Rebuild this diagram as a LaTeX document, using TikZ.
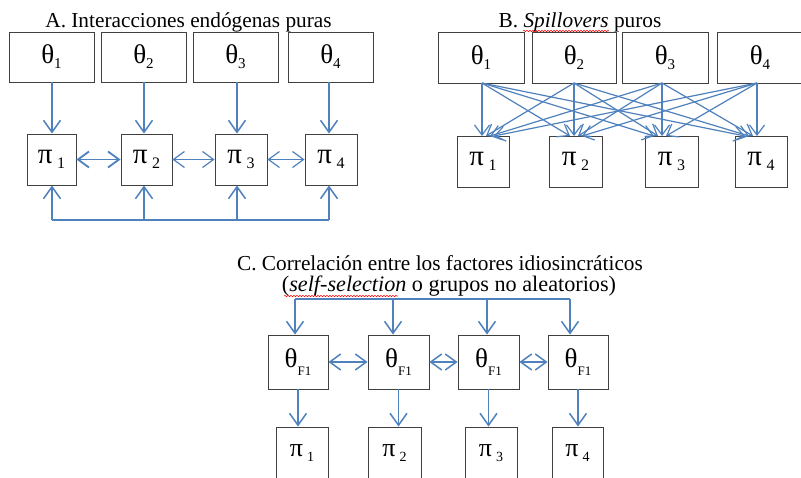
\documentclass[tikz,border=0pt]{standalone}
\usepackage{fontspec}
\setmainfont{Liberation Serif}
\usetikzlibrary{arrows.meta,decorations.pathmorphing}
\definecolor{ab}{RGB}{79,129,189}
\newcommand{\thA}[1]{\fontsize{27}{28}\selectfont θ\raisebox{-5pt}{\fontsize{15}{15}\selectfont #1}}
\newcommand{\piA}[1]{\fontsize{29}{29}\selectfont π\,\raisebox{-5pt}{\fontsize{16}{16}\selectfont #1}}
\newcommand{\thF}{\fontsize{27}{28}\selectfont θ\raisebox{-8pt}{\fontsize{13}{13}\selectfont F1}}
\newcommand{\piC}[1]{\fontsize{26}{26}\selectfont π\,\raisebox{-5pt}{\fontsize{14}{14}\selectfont #1}}
\tikzset{
 box/.style={draw=black!75, line width=0.9pt, rectangle, inner sep=0pt},
 arr/.style={ab, line width=1.5pt, -{Straight Barb[length=12pt,width=17pt]}},
 darr/.style={ab, line width=1.5pt, {Straight Barb[length=11pt,width=16pt]}-{Straight Barb[length=11pt,width=16pt]}},
 arrB/.style={ab, line width=1.2pt, -{Straight Barb[length=10pt,width=15pt]}},
 ln/.style={ab, line width=1.5pt},
 ttl/.style={font=\fontsize{21.3}{24}\selectfont, anchor=base, inner sep=0pt},
 spell/.style={red, line width=0.5pt, decorate, decoration={snake, amplitude=0.7pt, segment length=3pt}}
}
\begin{document}
\begin{tikzpicture}[x=1pt,y=-1pt]
\useasboundingbox (0,0) rectangle (801,477);
\clip (0,0) rectangle (801,477);
\fill[white] (0,0) rectangle (801,477);

% ---------- Panel A ----------
\node[ttl] (titA) at (188.5,27) {A. Interacciones endógenas puras};
\node[box, minimum width=85pt, minimum height=50pt] (tA1) at (51.5,57) {\thA{1}};
\node[box, minimum width=85pt, minimum height=50pt] (tA2) at (143.5,57) {\thA{2}};
\node[box, minimum width=85pt, minimum height=50pt] (tA3) at (235.5,57) {\thA{3}};
\node[box, minimum width=85pt, minimum height=50pt] (tA4) at (330.5,57) {\thA{4}};
\node[box, minimum width=49pt, minimum height=51pt] (pA1) at (51.5,159.5) {\piA{1}};
\node[box, minimum width=51pt, minimum height=51pt] (pA2) at (146.5,159.5) {\piA{2}};
\node[box, minimum width=52pt, minimum height=51pt] (pA3) at (241,159.5) {\piA{3}};
\node[box, minimum width=52pt, minimum height=51pt] (pA4) at (331,159.5) {\piA{4}};
\foreach \i/\xx in {1/52,2/144,3/237,4/329}{
  \coordinate (uA\i) at (\xx,82);
  \coordinate (bA\i) at (\xx,220);
  \draw[arr] (uA\i) -- (uA\i |- pA\i.north);
  \draw[arr] (bA\i) -- (bA\i |- pA\i.south);
}
\draw[ln] (bA1) -- (bA4);
\draw[darr, line width=1.8pt] (pA1.east) -- (pA2.west);
\draw[darr, line width=1.2pt] (pA2.east) -- (pA3.west);
\draw[darr, line width=1.2pt] (pA3.east) -- (pA4.west);

% ---------- Panel B ----------
\node[ttl] (titB) at (580,27) {B. \textit{Spillovers} puros};
\draw[spell] (523,31) -- (609,31);
\node[box, minimum width=86pt, minimum height=51pt] (tB1) at (481,57.5) {\thA{1}};
\node[box, minimum width=84pt, minimum height=51pt] (tB2) at (574,57.5) {\thA{2}};
\node[box, minimum width=86pt, minimum height=51pt] (tB3) at (665,57.5) {\thA{3}};
\node[box, minimum width=86pt, minimum height=51pt] (tB4) at (760,57.5) {\thA{4}};
\node[box, minimum width=52pt, minimum height=51pt] (pB1) at (483,161.5) {\piA{1}};
\node[box, minimum width=53pt, minimum height=51pt] (pB2) at (575.5,161.5) {\piA{2}};
\node[box, minimum width=53pt, minimum height=51pt] (pB3) at (671.5,161.5) {\piA{3}};
\node[box, minimum width=52pt, minimum height=51pt] (pB4) at (761,161.5) {\piA{4}};
\foreach \i/\xx in {1/482,2/574,3/662,4/757}{
  \coordinate (sB\i) at (\xx,83);
  \coordinate (eB\i) at (\xx,136);
}
\foreach \i in {1,...,4}{
  \foreach \j in {1,...,4}{
    \pgfmathsetmacro{\dx}{4*(\i-\j)}
    \draw[arrB] (sB\i) -- ([xshift=\dx pt]eB\j);
  }
}

% ---------- Panel C ----------
\node[ttl] (titC1) at (440,270) {C. Correlación entre los factores idiosincráticos};
\node[ttl, font=\fontsize{22.2}{24}\selectfont] (titC2) at (449,291) {(\textit{self-selection} o grupos no aleatorios)};
\draw[spell] (284,296) -- (398,296);
\node[box, minimum width=60pt, minimum height=54pt] (tC1) at (298,362) {\thF};
\node[box, minimum width=61pt, minimum height=54pt] (tC2) at (398.5,362) {\thF};
\node[box, minimum width=61pt, minimum height=54pt] (tC3) at (488.5,362) {\thF};
\node[box, minimum width=60pt, minimum height=54pt] (tC4) at (578,362) {\thF};
\node[box, minimum width=52pt, minimum height=52pt] (pC1) at (302,453) {\piC{1}};
\node[box, minimum width=53pt, minimum height=52pt] (pC2) at (394.5,453) {\piC{2}};
\node[box, minimum width=52pt, minimum height=52pt] (pC3) at (491,453) {\piC{3}};
\node[box, minimum width=51pt, minimum height=52pt] (pC4) at (577.5,453) {\piC{4}};
\foreach \i/\xx in {1/295,2/393,3/487,4/570}{
  \coordinate (cT\i) at (\xx,299);
  \draw[arr] (cT\i) -- (cT\i |- tC\i.north);
}
\draw[ln] (cT1) -- (cT4);
\foreach \i in {1,...,4}{
  \draw[arr] (tC\i.south) -- (tC\i.south |- pC\i.north);
}
\draw[darr] (tC1.east) -- (tC2.west);
\draw[darr] (tC2.east) -- (tC3.west);
\draw[darr] (tC3.east) -- (tC4.west);
\end{tikzpicture}
\end{document}
